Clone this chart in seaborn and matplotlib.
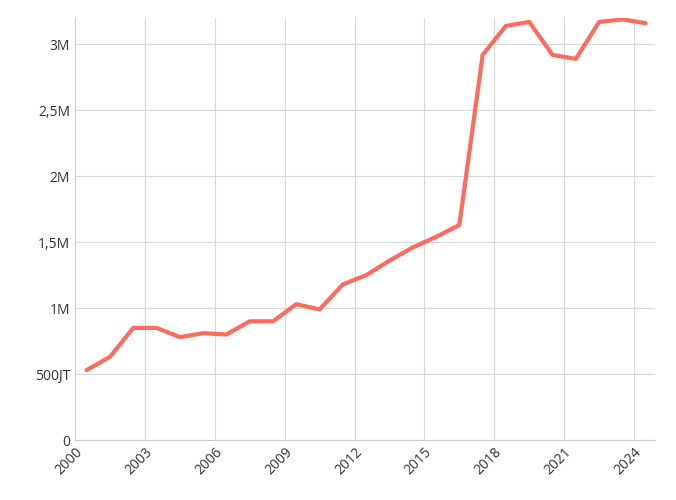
import matplotlib
matplotlib.use("Agg")
import matplotlib.pyplot as plt
import seaborn as sns
import pandas as pd

years = list(range(2000, 2025))
values = [0.53, 0.63, 0.85, 0.85, 0.78, 0.81, 0.80, 0.90, 0.90, 1.03, 0.99, 1.18, 1.25,
          1.36, 1.46, 1.54, 1.63, 2.92, 3.14, 3.17, 2.92, 2.89, 3.17, 3.19, 3.16]
ytick_vals = [0, 0.5, 1, 1.5, 2, 2.5, 3]
ytick_labels = ["0", "500JT", "1M", "1,5M", "2M", "2,5M", "3M"]
xtick_vals = list(range(2000, 2025, 3))

df = pd.DataFrame({"x": [y + 0.5 for y in years], "value": values})

sns.set_style("white")
plt.rcParams['font.family'] = ['Open Sans', 'DejaVu Sans']
fig = plt.figure(figsize=(6.76, 5.0), dpi=100)
ax = fig.add_axes([0.111, 0.12, 0.858, 0.844])
sns.lineplot(data=df, x="x", y="value", color="#fb6b5e", linewidth=3, ax=ax)

ax.set_xlim(2000, 2024.9)
ax.set_ylim(0, 3.2)
ax.set_yticks(ytick_vals)
ax.set_yticklabels(ytick_labels)
ax.set_xticks(xtick_vals)
ax.set_xticklabels([str(v) for v in xtick_vals], rotation=45, ha="right", rotation_mode="anchor")
ax.grid(True, color="#d9d9d9", linewidth=0.8)
for s in ["top", "right"]:
    ax.spines[s].set_visible(False)
for s in ["left", "bottom"]:
    ax.spines[s].set_color("#cccccc")
ax.tick_params(axis="both", labelsize=10, colors="#333333", length=0)
ax.set_xlabel("")
ax.set_ylabel("")
fig.savefig("out.png", dpi=100)
